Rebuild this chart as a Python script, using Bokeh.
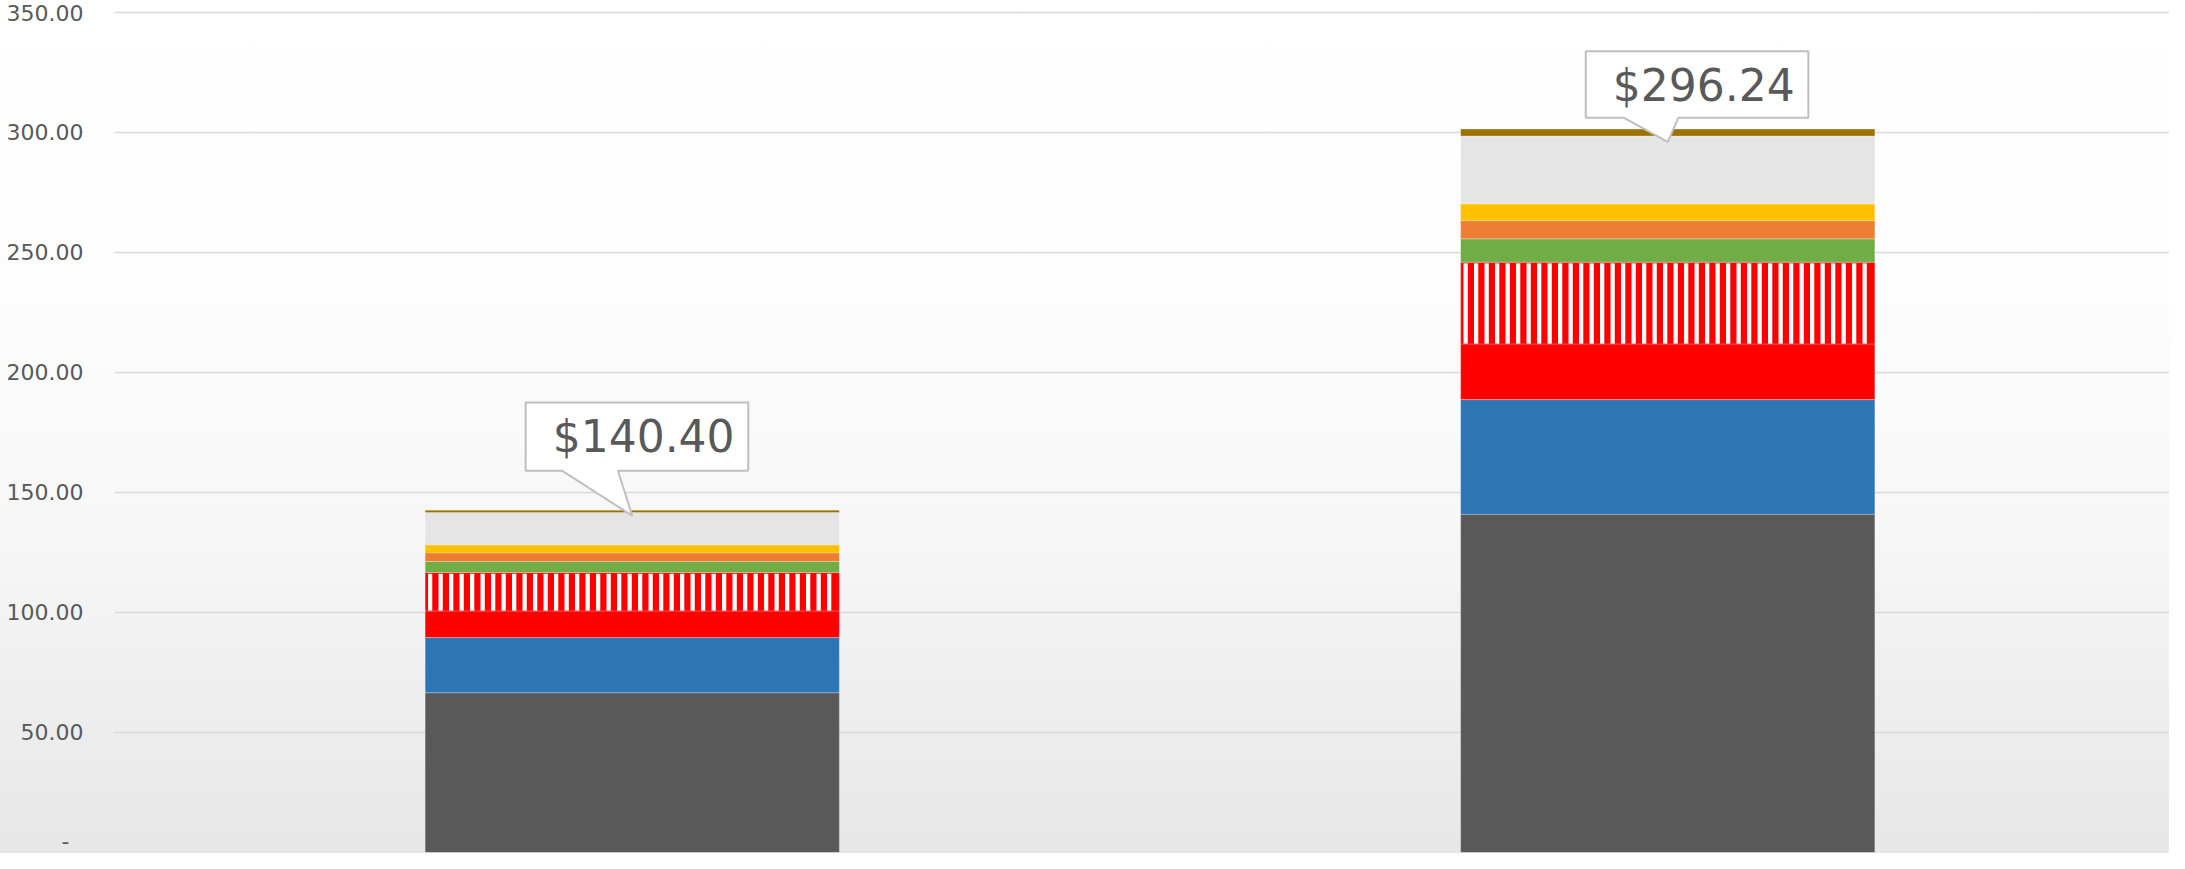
from bokeh.plotting import figure
from bokeh.models import ColumnDataSource, Range1d, FixedTicker, CustomJSTickFormatter
from bokeh.core.properties import value
from bokeh.embed import file_html
from bokeh.resources import INLINE

# ---------------- data ----------------
categories = ["Option A", "Option B"]
series_names = ["Series 1", "Series 2", "Series 3", "Series 4", "Series 5",
                "Series 6", "Series 7", "Series 8", "Series 9"]
s1 = [66.6, 141.0]
s2 = [23.0, 47.8]
s3 = [11.1, 23.2]
s4 = [16.0, 34.1]
s5 = [4.6, 9.7]
s6 = [3.6, 7.6]
s7 = [3.4, 7.0]
s8 = [13.4, 28.3]
s9 = [1.0, 2.9]
label_values = [140.40, 296.24]
label_texts = ["$140.40", "$296.24"]
y_ticks = [0, 50, 100, 150, 200, 250, 300, 350]

# ---------------- style ----------------
colors = ["#595959", "#2e75b6", "#ff0000", "#ff0000", "#70ad47",
          "#ed7d31", "#ffc000", "#e5e5e5", "#9c7300"]
HATCHED = 3          # index of the striped series
BAR_W = 0.4
W, H = 2169, 853
ML, MR, MT, MB = 114, 0, 10, 1
PW, PH = W - ML - MR, H - MT - MB
CAT_PX = 1035.5      # pixel width of one category slot
YMAX = 350
Y_TOP = YMAX + 1
STRIPE_START, STRIPE_STEP, STRIPE_W = 5.0, 10.5, 4.3
# callout geometry (px relative to the pointer tip): left, right, top, bottom, base1, base2
callout_geom = [(-106.6, 116.0, -113.3, -45.0, -70.3, -14.3),
                (-82.0, 140.6, -90.7, -24.0, -43.7, 10.6)]

series = [s1, s2, s3, s4, s5, s6, s7, s8, s9]
xs = [i + 0.5 for i in range(len(categories))]
data = {"x": xs}
for name, vals in zip(series_names, series):
    data[name] = vals
source = ColumnDataSource(data)

p = figure(width=W, height=H, output_backend="svg", toolbar_location=None,
           x_range=Range1d(0, PW / CAT_PX), y_range=Range1d(0, Y_TOP),
           min_border_left=ML, min_border_right=MR, min_border_top=MT, min_border_bottom=MB)
p.styles = {"background": "linear-gradient(to bottom, #ffffff 0%, #fdfdfd 35%, #f7f7f7 62%, #efefef 80%, #e7e7e7 100%)"}
p.background_fill_alpha = 0
p.border_fill_alpha = 0
p.outline_line_color = None

p.vbar_stack(series_names, x="x", width=BAR_W, source=source,
             fill_color=colors, line_color="white", line_alpha=0.25, line_width=1)

kx = CAT_PX
ky = PH / Y_TOP

# white vertical stripes on the hatched series
bar_px = BAR_W * kx
sx, sy, sh = [], [], []
for i, xc in enumerate(xs):
    bottom = sum(s[i] for s in series[:HATCHED])
    top = bottom + series[HATCHED][i]
    left = xc - BAR_W / 2
    k = 0
    while STRIPE_START + k * STRIPE_STEP + STRIPE_W / 2 <= bar_px:
        sx.append(left + (STRIPE_START + k * STRIPE_STEP) / kx)
        sy.append((bottom + top) / 2 - 0.2)
        sh.append(top - bottom - 0.6)
        k += 1
p.rect(x=sx, y=sy, width=STRIPE_W, width_units="screen", height=sh,
       fill_color="white", line_color=None)

# callouts
for xc, v, txt, g in zip(xs, label_values, label_texts, callout_geom):
    L, R, T, B, b1, b2 = g
    px = [L, R, R, b2, 0, b1, L]
    py = [T, T, B, B, 0, B, B]
    p.patch([xc + a / kx for a in px], [v - b / ky for b in py],
            fill_color="white", line_color="#bfbfbf", line_width=2)
    p.text(x=[xc + (L + 27) / kx], y=[v - (T + 34.5) / ky], text=[txt],
           text_font=value("DejaVu Sans"), text_font_size="44px",
           text_color="#595959", text_align="left", text_baseline="middle")

p.xaxis.visible = False
p.xgrid.visible = False
p.ygrid.grid_line_color = "#d9d9d9"
p.ygrid.grid_line_width = 1.5
p.yaxis.ticker = FixedTicker(ticks=y_ticks)
p.yaxis.formatter = CustomJSTickFormatter(code="return tick == 0 ? '-\\u00a0\\u00a0' : tick.toFixed(2);")
p.yaxis.axis_line_color = None
p.yaxis.major_tick_line_color = None
p.yaxis.minor_tick_line_color = None
p.yaxis.major_tick_out = 0
p.yaxis.major_tick_in = 0
p.yaxis.major_label_standoff = 31
p.yaxis.major_label_text_font = "DejaVu Sans"
p.yaxis.major_label_text_font_size = "22px"
p.yaxis.major_label_text_color = "#595959"

open("out.html", "w").write(file_html(p, INLINE))
